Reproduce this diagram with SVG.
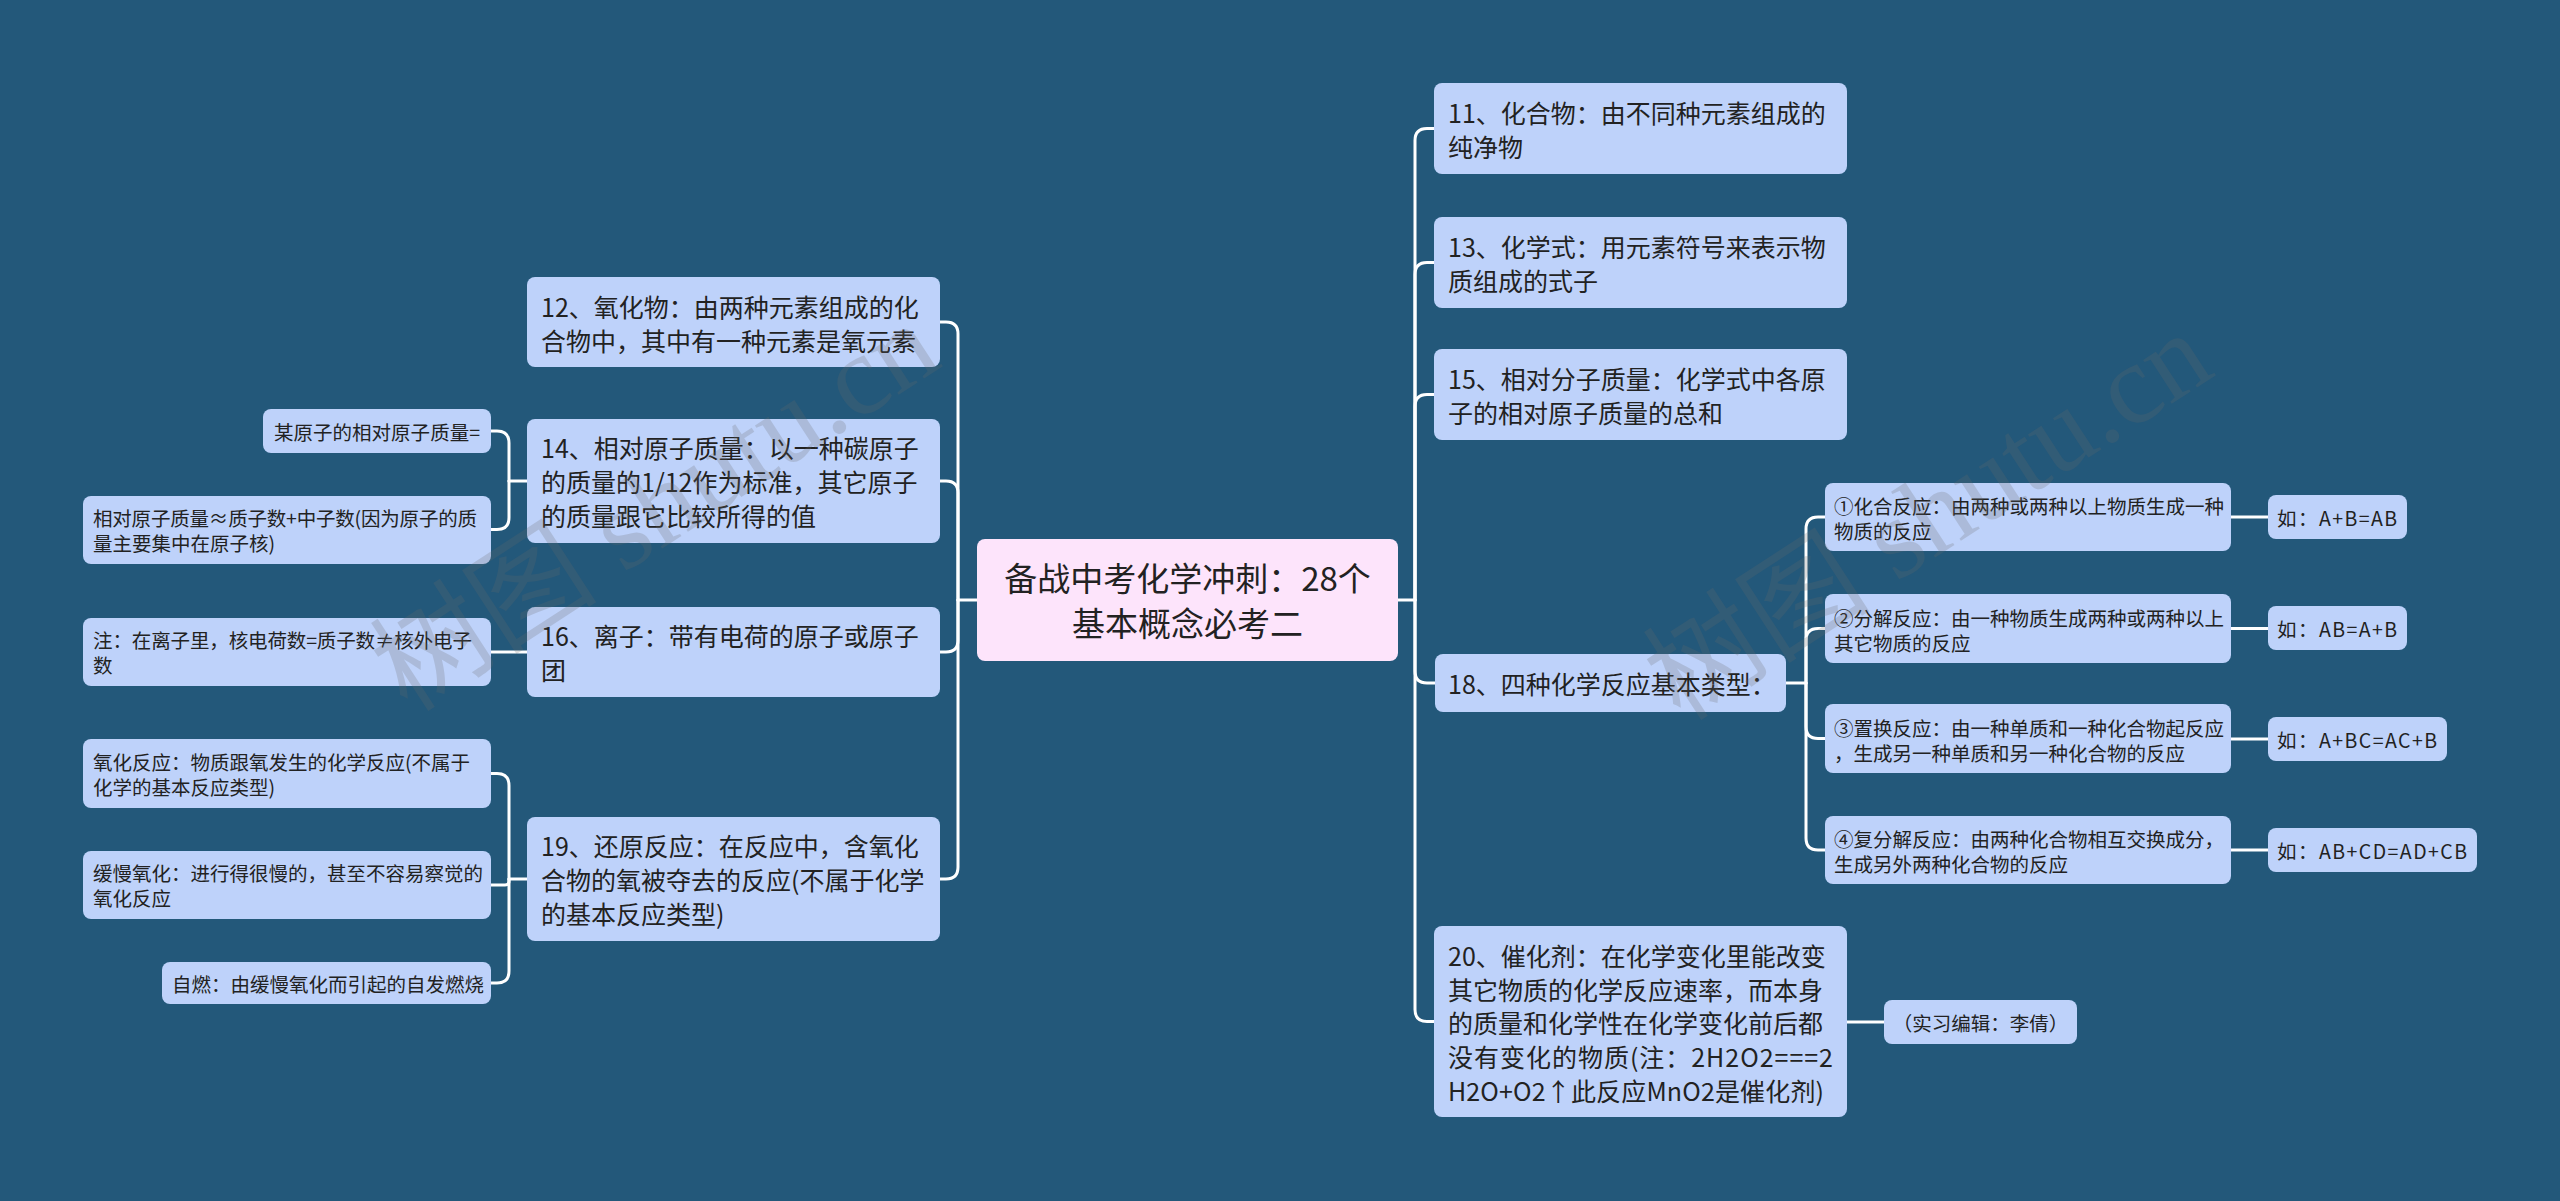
<svg xmlns="http://www.w3.org/2000/svg" width="2560" height="1201" viewBox="0 0 2560 1201">
<style>
text{font-family:"Noto Sans CJK SC","Noto Sans",sans-serif;fill:#222;dominant-baseline:central}
.n rect{fill:#bed2fa}
.root rect{fill:#fde4fb}
.t0{font-size:33px}
.t1{font-size:25px}
.t2{font-size:19.5px}
.c path{fill:none;stroke:#ffffff;stroke-width:3;stroke-linecap:round}
.wm{font-family:"Liberation Serif","Noto Sans CJK SC",serif;font-size:114px;fill:#6a6a6a;opacity:0.22;dominant-baseline:auto}
</style>
<rect width="2560" height="1201" fill="#23587a"/>
<g class="c" id="connectors">
<path d="M1398,600 H1415"/>
<path d="M1415,600 V140.5 Q1415,128.5 1427,128.5 H1434"/>
<path d="M1415,600 V274.5 Q1415,262.5 1427,262.5 H1434"/>
<path d="M1415,600 V406.5 Q1415,394.5 1427,394.5 H1434"/>
<path d="M1415,600 V671 Q1415,683 1427,683 H1435"/>
<path d="M1415,600 V1009.5 Q1415,1021.5 1427,1021.5 H1434"/>
<path d="M977,600 H958"/>
<path d="M958,600 V334 Q958,322 946,322 H940"/>
<path d="M958,600 V493 Q958,481 946,481 H940"/>
<path d="M958,600 V640 Q958,652 946,652 H940"/>
<path d="M958,600 V867 Q958,879 946,879 H940"/>
<path d="M527,481 H509"/>
<path d="M509,481 V443 Q509,431 497,431 H491"/>
<path d="M509,481 V517.5 Q509,529.5 497,529.5 H491"/>
<path d="M527,652 H491"/>
<path d="M527,879 H509"/>
<path d="M509,879 V785.5 Q509,773.5 497,773.5 H491"/>
<path d="M509,879 V881 Q509,885 505,885 H491"/>
<path d="M509,879 V971 Q509,983 497,983 H491"/>
<path d="M1786,683 H1806"/>
<path d="M1806,683 V529 Q1806,517 1818,517 H1825"/>
<path d="M1806,683 V640.5 Q1806,628.5 1818,628.5 H1825"/>
<path d="M1806,683 V726.5 Q1806,738.5 1818,738.5 H1825"/>
<path d="M1806,683 V838 Q1806,850 1818,850 H1825"/>
<path d="M2231,517 H2268"/>
<path d="M2231,628.5 H2268"/>
<path d="M2231,739 H2268"/>
<path d="M2231,850 H2268"/>
<path d="M1847,1022 H1884"/>
</g>
<g class="root" id="root"><rect x="977" y="539" width="421" height="122" rx="8"/><text class="t0" x="1187.5" y="577" text-anchor="middle">备战中考化学冲刺：28个</text><text class="t0" x="1187.5" y="622" text-anchor="middle">基本概念必考二</text></g>
<g class="n" id="n11"><rect x="1434" y="83" width="413" height="91" rx="8"/><text class="t1" x="1448" y="112">11、化合物：由不同种元素组成的</text><text class="t1" x="1448" y="146">纯净物</text></g>
<g class="n" id="n13"><rect x="1434" y="217" width="413" height="91" rx="8"/><text class="t1" x="1448" y="246">13、化学式：用元素符号来表示物</text><text class="t1" x="1448" y="280">质组成的式子</text></g>
<g class="n" id="n15"><rect x="1434" y="349" width="413" height="91" rx="8"/><text class="t1" x="1448" y="378">15、相对分子质量：化学式中各原</text><text class="t1" x="1448" y="412">子的相对原子质量的总和</text></g>
<g class="n" id="n18"><rect x="1435" y="654" width="351" height="58" rx="8"/><text class="t1" x="1448" y="683">18、四种化学反应基本类型：</text></g>
<g class="n" id="n18a"><rect x="1825" y="483" width="406" height="68" rx="8"/><text class="t2" x="1834" y="505.5">①化合反应：由两种或两种以上物质生成一种</text><text class="t2" x="1834" y="530.5">物质的反应</text></g>
<g class="n" id="n18b"><rect x="1825" y="594" width="406" height="69" rx="8"/><text class="t2" x="1834" y="617">②分解反应：由一种物质生成两种或两种以上</text><text class="t2" x="1834" y="642">其它物质的反应</text></g>
<g class="n" id="n18c"><rect x="1825" y="704" width="406" height="69" rx="8"/><text class="t2" x="1834" y="727">③置换反应：由一种单质和一种化合物起反应</text><text class="t2" x="1834" y="752">，生成另一种单质和另一种化合物的反应</text></g>
<g class="n" id="n18d"><rect x="1825" y="816" width="406" height="68" rx="8"/><text class="t2" x="1834" y="838.5">④复分解反应：由两种化合物相互交换成分，</text><text class="t2" x="1834" y="863.5">生成另外两种化合物的反应</text></g>
<g class="n" id="e1"><rect x="2268" y="495" width="139" height="44" rx="8"/><text class="t2" x="2277" y="517" textLength="120">如：A+B=AB</text></g>
<g class="n" id="e2"><rect x="2268" y="606" width="139" height="44" rx="8"/><text class="t2" x="2277" y="628" textLength="120">如：AB=A+B</text></g>
<g class="n" id="e3"><rect x="2268" y="717" width="179" height="44" rx="8"/><text class="t2" x="2277" y="739" textLength="160">如：A+BC=AC+B</text></g>
<g class="n" id="e4"><rect x="2268" y="828" width="209" height="44" rx="8"/><text class="t2" x="2277" y="850" textLength="190">如：AB+CD=AD+CB</text></g>
<g class="n" id="n20"><rect x="1434" y="926" width="413" height="191" rx="8"/><text class="t1" x="1448" y="955">20、催化剂：在化学变化里能改变</text><text class="t1" x="1448" y="989">其它物质的化学反应速率，而本身</text><text class="t1" x="1448" y="1022">的质量和化学性在化学变化前后都</text><text class="t1" x="1448" y="1056" textLength="385">没有变化的物质(注：2H2O2===2</text><text class="t1" x="1448" y="1090" textLength="376">H2O+O2↑此反应MnO2是催化剂)</text></g>
<g class="n" id="n20a"><rect x="1884" y="1000" width="193" height="44" rx="8"/><text class="t2" x="1980.5" y="1022" text-anchor="middle">（实习编辑：李倩）</text></g>
<g class="n" id="n12"><rect x="527" y="277" width="413" height="90" rx="8"/><text class="t1" x="541" y="306">12、氧化物：由两种元素组成的化</text><text class="t1" x="541" y="340">合物中，其中有一种元素是氧元素</text></g>
<g class="n" id="n14"><rect x="527" y="419" width="413" height="124" rx="8"/><text class="t1" x="541" y="447">14、相对原子质量：以一种碳原子</text><text class="t1" x="541" y="481">的质量的1/12作为标准，其它原子</text><text class="t1" x="541" y="515">的质量跟它比较所得的值</text></g>
<g class="n" id="n14a"><rect x="263" y="409" width="228" height="44" rx="8"/><text class="t2" x="274" y="431" textLength="206">某原子的相对原子质量=</text></g>
<g class="n" id="n14b"><rect x="83" y="496" width="408" height="68" rx="8"/><text class="t2" x="93" y="517.5" textLength="384">相对原子质量≈质子数+中子数(因为原子的质</text><text class="t2" x="93" y="542.5">量主要集中在原子核)</text></g>
<g class="n" id="n16"><rect x="527" y="607" width="413" height="90" rx="8"/><text class="t1" x="541" y="635">16、离子：带有电荷的原子或原子</text><text class="t1" x="541" y="669">团</text></g>
<g class="n" id="n16a"><rect x="83" y="618" width="408" height="68" rx="8"/><text class="t2" x="93" y="639.5" textLength="379">注：在离子里，核电荷数=质子数≠核外电子</text><text class="t2" x="93" y="664.5">数</text></g>
<g class="n" id="n19"><rect x="527" y="817" width="413" height="124" rx="8"/><text class="t1" x="541" y="845">19、还原反应：在反应中，含氧化</text><text class="t1" x="541" y="879">合物的氧被夺去的反应(不属于化学</text><text class="t1" x="541" y="913">的基本反应类型)</text></g>
<g class="n" id="n19a"><rect x="83" y="739" width="408" height="69" rx="8"/><text class="t2" x="93" y="761">氧化反应：物质跟氧发生的化学反应(不属于</text><text class="t2" x="93" y="786">化学的基本反应类型)</text></g>
<g class="n" id="n19b"><rect x="83" y="851" width="408" height="68" rx="8"/><text class="t2" x="93" y="872.5">缓慢氧化：进行得很慢的，甚至不容易察觉的</text><text class="t2" x="93" y="897.5">氧化反应</text></g>
<g class="n" id="n19c"><rect x="162" y="962" width="329" height="42" rx="8"/><text class="t2" x="172" y="983">自燃：由缓慢氧化而引起的自发燃烧</text></g>
<g id="watermarks">
<text class="wm" x="657" y="545" text-anchor="middle" transform="rotate(-33 657 510)">树图 shutu.cn</text>
<text class="wm" x="1930" y="554" text-anchor="middle" transform="rotate(-33 1930 519)">树图 shutu.cn</text>
</g>
</svg>
